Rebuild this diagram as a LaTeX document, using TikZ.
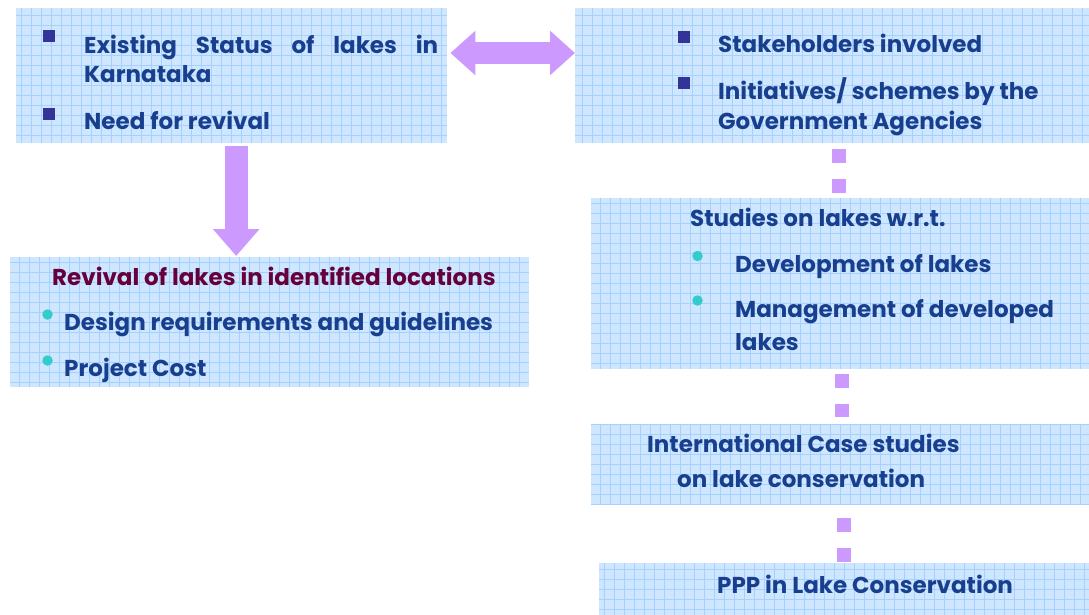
\documentclass[tikz,border=0pt]{standalone}
\usepackage{fontspec}
\setmainfont{Poppins}
\usetikzlibrary{arrows.meta}
\definecolor{boxfill}{HTML}{CFE6FF}
\definecolor{gridblue}{HTML}{A6D0FF}
\definecolor{textblue}{HTML}{183F8E}
\definecolor{maroon}{HTML}{66003A}
\definecolor{lilac}{HTML}{CC99FF}
\definecolor{bulletsq}{HTML}{333399}
\definecolor{bulletdot}{HTML}{33CCCC}
\tikzset{
  gridbox/.style={rectangle, fill=boxfill, inner sep=0pt, anchor=north west,
    path picture={\draw[gridblue, line width=0.7pt]
      (path picture bounding box.south west) grid[step=10pt]
      (path picture bounding box.north east);}},
  txt/.style={anchor=base west, inner sep=0pt, text=textblue,
    font=\fontsize{23}{27}\selectfont\bfseries},
  sqbullet/.style={rectangle, fill=bulletsq, minimum size=12pt, inner sep=0pt},
  dotbullet/.style={circle, fill=bulletdot, minimum size=10.5pt, inner sep=0pt},
  bigarrow/.style={lilac, line width=22pt,
    {Triangle[width=43pt,length=25pt]}-{Triangle[width=43pt,length=25pt]}},
  downarrow/.style={lilac, line width=23pt,
    -{Triangle[width=45pt,length=27pt]}},
  sqdots/.style={lilac, line width=14pt, dash pattern=on 14pt off 16pt}
}

\begin{document}
\begin{tikzpicture}[x=1pt,y=-1pt]
  \useasboundingbox (0,0) rectangle (1089,615);

  \node[gridbox, minimum width=431, minimum height=135] (status) at (16,8) {};
  \node[gridbox, minimum width=514, minimum height=135] (stake) at (575,8) {};
  \node[gridbox, minimum width=519, minimum height=130] (revival) at (10,257) {};
  \node[gridbox, minimum width=498, minimum height=171] (studies) at (591,198) {};
  \node[gridbox, minimum width=498, minimum height=80] (intl) at (591,424) {};
  \node[gridbox, minimum width=490, minimum height=52] (ppp) at (599,563) {};

  % top left box
  \node[sqbullet] (sq1) at (49,36) {};
  \node[sqbullet] (sq2) at (49,114) {};
  \node[txt] (existing) at (84,54) {\makebox[354pt][s]{Existing Status of lakes in}};
  \node[txt] (karnataka) at (84,83) {Karnataka};
  \node[txt] (need) at (84,130) {Need for revival};

  % top right box
  \node[sqbullet] (sq3) at (684,37) {};
  \node[sqbullet] (sq4) at (684,83) {};
  \node[txt] (stakeholders) at (718,53) {Stakeholders involved};
  \node[txt] (initiatives) at (718,100) {Initiatives/ schemes by the};
  \node[txt] (government) at (718,130) {Government Agencies};

  % revival box
  \node[txt, text=maroon] (revtitle) at (52,285) {Revival of lakes in identified locations};
  \node[dotbullet] (dot1) at (47.5,314.5) {};
  \node[dotbullet] (dot2) at (47.5,360.5) {};
  \node[txt] (design) at (64,330) {Design requirements and guidelines};
  \node[txt] (cost) at (64,376) {Project Cost};

  % studies box
  \node[txt] (stutitle) at (690,226) {Studies on lakes w.r.t.};
  \node[dotbullet] (dot3) at (697.5,256) {};
  \node[dotbullet] (dot4) at (697.5,300.5) {};
  \node[txt] (develop) at (735,272) {Development of lakes};
  \node[txt] (manage) at (735,317) {Management of developed};
  \node[txt] (lakes) at (735,350) {lakes};

  % case studies and ppp
  \node[txt] (intl1) at (647,452) {International Case studies};
  \node[txt] (intl2) at (677,487) {on lake conservation};
  \node[txt] (pppline) at (717,593) {PPP in Lake Conservation};

  % connectors
  \draw[bigarrow] ([shift={(3,45)}]status.north east) -- ([shift={(0,45)}]stake.north west);
  \draw[downarrow] ([shift={(4.5,2.5)}]status.south) -- ([shift={(-33.5,-1)}]revival.north);
  \draw[sqdots] ([shift={(6.5,6)}]stake.south) -- ([shift={(-1.5,-5)}]studies.north);
  \draw[sqdots] ([shift={(2,5)}]studies.south) -- ([shift={(2,-7)}]intl.north);
  \draw[sqdots] ([shift={(0,-45)}]ppp.north) -- (ppp.north);
\end{tikzpicture}
\end{document}
